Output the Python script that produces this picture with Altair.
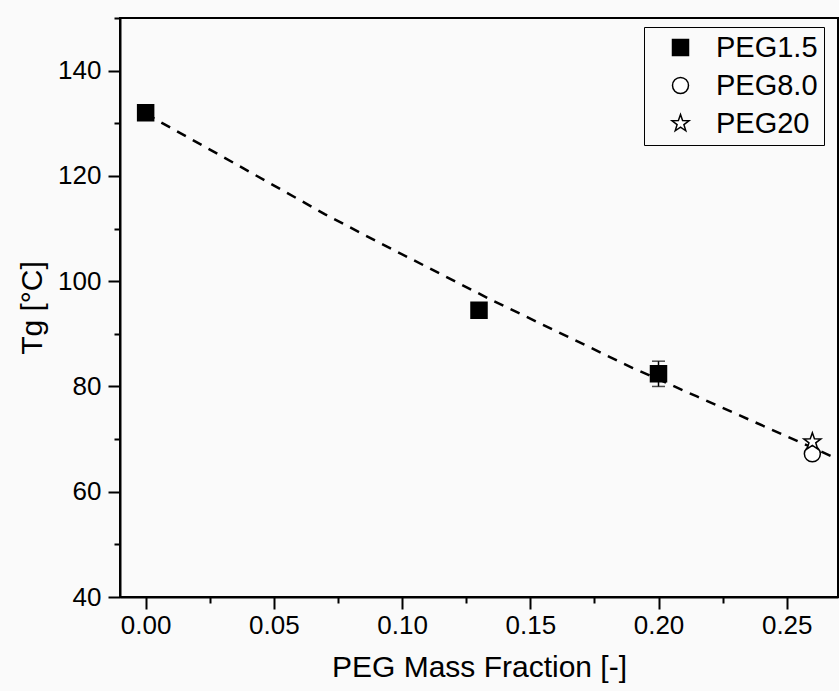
import altair as alt
import pandas as pd

# ---- data ----
series_names = ["PEG1.5", "PEG8.0", "PEG20"]

peg15_x = [0.0, 0.13, 0.20]
peg15_y = [132.0, 94.5, 82.4]
peg15_err = [0.0, 0.0, 2.4]

peg80_x = [0.26]
peg80_y = [67.2]

peg20_x = [0.26]
peg20_y = [69.5]

fit_x = [0.0, 0.035, 0.07, 0.09, 0.135, 0.19, 0.215, 0.27]
fit_y = [131.8, 122.3, 112.7, 107.6, 96.4, 83.5, 78.1, 66.2]

x_ticks = [0.0, 0.025, 0.05, 0.075, 0.10, 0.125, 0.15, 0.175, 0.20, 0.225, 0.25]
y_ticks = [40, 50, 60, 70, 80, 90, 100, 110, 120, 130, 140, 150]

# ---- tables ----
points = pd.DataFrame({
    "x": peg15_x + peg80_x + peg20_x,
    "y": peg15_y + peg80_y + peg20_y,
    "series": [series_names[0]] * len(peg15_x)
              + [series_names[1]] * len(peg80_x)
              + [series_names[2]] * len(peg20_x),
})
errs = pd.DataFrame({
    "x": [x for x, e in zip(peg15_x, peg15_err) if e > 0],
    "y": [y - e for y, e in zip(peg15_y, peg15_err) if e > 0],
    "hi": [y + e for y, e in zip(peg15_y, peg15_err) if e > 0],
})
fit = pd.DataFrame({"x": fit_x, "y": fit_y})

FONT = "Liberation Sans"
STAR = ("M0,-1.12L0.263,-0.363L1.065,-0.346L0.426,0.139L0.659,0.906L0,0.448"
        "L-0.659,0.906L-0.426,0.139L-1.065,-0.346L-0.263,-0.363Z")

x_scale = alt.Scale(domain=[-0.01, 0.27], nice=False, zero=False)
y_scale = alt.Scale(domain=[40, 150], nice=False, zero=False)

x_minor = "abs(datum.value*20 - round(datum.value*20)) > 0.1"
y_minor = "abs(datum.value/20 - round(datum.value/20)) > 0.1"

axis_style = dict(
    grid=False,
    domainColor="black",
    domainWidth=2,
    tickColor="black",
    tickWidth=2,
    labelFont=FONT,
    labelFontSize=26,
    labelColor="black",
    titleFont=FONT,
    titleFontSize=30,
    titleFontWeight="normal",
    titleColor="black",
)

x_axis = alt.Axis(
    values=x_ticks,
    labelExpr=f"({x_minor}) ? '' : format(datum.value, '.2f')",
    tickSize={"condition": {"test": x_minor, "value": 6}, "value": 12},
    title="PEG Mass Fraction [-]",
    orient="bottom",
    labelPadding=3,
    titlePadding=14,
    **axis_style,
)
y_axis = alt.Axis(
    values=y_ticks,
    labelExpr=f"({y_minor}) ? '' : format(datum.value, 'd')",
    tickSize={"condition": {"test": y_minor, "value": 6}, "value": 12},
    title="Tg [°C]",
    orient="left",
    labelPadding=7,
    titlePadding=10,
    **axis_style,
)

X = alt.X("x:Q", scale=x_scale, axis=x_axis)
Y = alt.Y("y:Q", scale=y_scale, axis=y_axis)

line = alt.Chart(fit).mark_line(
    color="black", strokeWidth=2.5, strokeDash=[10, 8]
).encode(x=X, y=Y)

err_rule = alt.Chart(errs).mark_rule(color="black", strokeWidth=1.5).encode(
    x=X, y=Y, y2="hi:Q"
)
cap_lo = alt.Chart(errs).mark_tick(
    color="black", orient="horizontal", size=13, thickness=1.5
).encode(x=X, y=Y)
cap_hi = alt.Chart(errs).mark_tick(
    color="black", orient="horizontal", size=13, thickness=1.5
).encode(x=X, y=alt.Y("hi:Q", scale=y_scale, axis=y_axis))

legend = alt.Legend(
    title=None,
    orient="none",
    legendX=524,
    legendY=9,
    strokeColor="black",
    fillColor="#fafafa",
    padding=6,
    symbolOffset=16,
    labelOffset=21,
    symbolSize=256,
    symbolStrokeWidth=1.5,
    labelFont=FONT,
    labelFontSize=29,
    labelColor="black",
    rowPadding=8,
    labelLimit=400,
)

pts = alt.Chart(points).mark_point(
    size=256, strokeWidth=1.5, opacity=1, filled=False
).encode(
    x=X,
    y=Y,
    shape=alt.Shape(
        "series:N",
        scale=alt.Scale(domain=series_names, range=["square", "circle", STAR]),
        legend=legend,
    ),
    fill=alt.Fill(
        "series:N",
        scale=alt.Scale(domain=series_names, range=["black", "white", "white"]),
        legend=legend,
    ),
    stroke=alt.Stroke(
        "series:N",
        scale=alt.Scale(domain=series_names, range=["black", "black", "black"]),
        legend=legend,
    ),
)

chart = alt.layer(line, err_rule, cap_lo, cap_hi, pts).properties(
    width=718,
    height=579,
    autosize=alt.AutoSizeParams(type="none"),
    padding={"left": 120, "top": 18, "right": 1, "bottom": 94},
    background="#fafafa",
).configure_view(
    stroke="black", strokeWidth=2, fill="#fafafa"
)

chart.save("out.html", embed_options={"renderer": "svg", "actions": False})
